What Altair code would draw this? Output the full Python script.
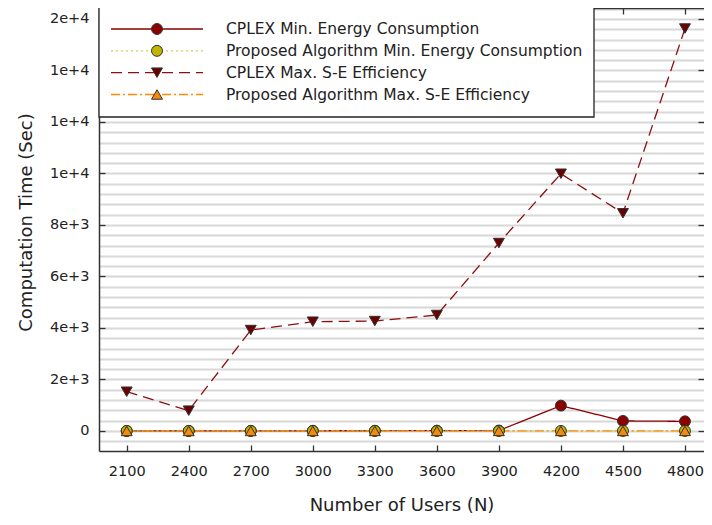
import altair as alt
import pandas as pd

# ---------------- data ----------------
users = [2100, 2400, 2700, 3000, 3300, 3600, 3900, 4200, 4500, 4800]
cplex_min_energy = [3, 4, 6, 8, 10, 14, 18, 985, 390, 375]
proposed_min_energy = [1, 1, 1, 2, 2, 2, 2, 3, 3, 3]
cplex_max_se = [1525, 790, 3920, 4245, 4270, 4505, 7300, 9990, 8455, 15630]
proposed_max_se = [1, 1, 1, 1, 2, 2, 2, 2, 3, 3]

series_names = [
    "CPLEX Min. Energy Consumption",
    "Proposed Algorithm Min. Energy Consumption",
    "CPLEX Max. S-E Efficiency",
    "Proposed Algorithm Max. S-E Efficiency",
]
y_grid_values = list(range(-400, 16401, 400))
y_major_values = list(range(0, 16001, 2000))

# ---------------- styles ----------------
line_colors = ["#8b0000", "#cfcf5a", "#8b1010", "#ff8c00"]
marker_fills = ["#8b0000", "#c2b400", "#6a0000", "#f58a0a"]
marker_shapes = ["circle", "circle", "triangle-down", "triangle-up"]
marker_sizes = [120, 120, 150, 95]
dashes = [[1, 0], [2, 3], [11, 6], [9, 3, 2, 3]]

X_DOMAIN = [1966, 4892]
Y_DOMAIN = [-777, 16427]
FRAME = "#333333"
TEXT = "#222222"

rows = []
for name, vals in zip(series_names, [cplex_min_energy, proposed_min_energy, cplex_max_se, proposed_max_se]):
    for u, v in zip(users, vals):
        rows.append({"users": u, "value": v, "series": name})
df = pd.DataFrame(rows)
legend_df = pd.DataFrame({"series": series_names})
box_df = pd.DataFrame({"series": series_names[:1]})


def xs():
    return alt.Scale(domain=X_DOMAIN, nice=False, zero=False)


def ys():
    return alt.Scale(domain=Y_DOMAIN, nice=False, zero=False)


stroke_enc = alt.Stroke("series:N", scale=alt.Scale(domain=series_names, range=line_colors), legend=None)
dash_enc = alt.StrokeDash("series:N", scale=alt.Scale(domain=series_names, range=dashes), legend=None)
fill_enc = alt.Fill("series:N", scale=alt.Scale(domain=series_names, range=marker_fills), legend=None)
shape_enc = alt.Shape("series:N", scale=alt.Scale(domain=series_names, range=marker_shapes), legend=None)
size_enc = alt.Size("series:N", scale=alt.Scale(domain=series_names, range=marker_sizes), legend=None)

label_expr = "datum.value % 2000 == 0 ? (datum.value == 0 ? '0' : format(datum.value, '.0e')) : ''"

# L1: lines, bottom labels/domain, left labels/grid/domain/title
lines = alt.Chart(df).mark_line(strokeWidth=1.3).encode(
    x=alt.X("users:Q", scale=xs(), axis=alt.Axis(
        orient="bottom", values=users, format="d", ticks=False, tickSize=0,
        labelPadding=13, labelFontSize=14.5, labelColor=TEXT, labelOverlap=False,
        domain=True, domainColor=FRAME, domainWidth=1.5, grid=False,
        title="Number of Users (N)", titleFontSize=18, titleFontWeight="normal",
        titleColor=TEXT, titleY=54, titleBaseline="middle")),
    y=alt.Y("value:Q", scale=ys(), axis=alt.Axis(
        orient="left", values=y_grid_values, labelExpr=label_expr, ticks=False, tickSize=0,
        labelPadding=10, labelFontSize=14.5, labelColor=TEXT, labelOverlap=False,
        domain=True, domainColor=FRAME, domainWidth=1.5,
        grid=True, gridColor="#d8d8d8", gridWidth=2,
        title="Computation Time (Sec)", titleFontSize=18, titleFontWeight="normal",
        titleColor=TEXT, titleX=-68, titleY=214, titleAngle=270,
        titleBaseline="alphabetic", titleAlign="center")),
    stroke=stroke_enc,
    strokeDash=dash_enc,
)

# L2: markers, top ticks + right ticks (inward)
points = alt.Chart(df).mark_point(filled=True, opacity=1, strokeWidth=1).encode(
    x=alt.X("users:Q", scale=xs(), axis=alt.Axis(
        orient="top", values=users, offset=-6, tickSize=6, ticks=True, tickColor=FRAME,
        tickWidth=1.3, labels=False, domain=False, grid=False, title="")),
    y=alt.Y("value:Q", scale=ys(), axis=alt.Axis(
        orient="right", values=y_major_values, offset=-6, tickSize=6, ticks=True,
        tickColor=FRAME, tickWidth=1.3, labels=False, domain=False, grid=False, title="")),
    fill=fill_enc,
    shape=shape_enc,
    size=size_enc,
    stroke=alt.value("#333333"),
)

# L3: invisible, bottom + left inward ticks
ticks_bl = alt.Chart(df).mark_point(opacity=0).encode(
    x=alt.X("users:Q", scale=xs(), axis=alt.Axis(
        orient="bottom", values=users, offset=-6, tickSize=6, ticks=True, tickColor=FRAME,
        tickWidth=1.3, labels=False, domain=False, grid=False, title="")),
    y=alt.Y("value:Q", scale=ys(), axis=alt.Axis(
        orient="left", values=y_major_values, offset=-6, tickSize=6, ticks=True,
        tickColor=FRAME, tickWidth=1.3, labels=False, domain=False, grid=False, title="")),
)

# L4: invisible, top frame line
top_frame = alt.Chart(df).mark_point(opacity=0).encode(
    x=alt.X("users:Q", scale=xs(), axis=alt.Axis(
        orient="top", ticks=False, labels=False, domain=True, domainColor=FRAME,
        domainWidth=1.5, grid=False, title="")),
    y=alt.Y("value:Q", scale=ys(), axis=None),
)

# Legend (drawn inside the plot)
ly = alt.Y("series:N", sort=series_names,
           scale=alt.Scale(type="point", domain=series_names, range=[21, 86.5], padding=0),
           axis=None)

legend_box = alt.Chart(box_df).mark_rect(fill="white", stroke="#222222", strokeWidth=1.3).encode(
    x=alt.value(0), x2=alt.value(495), y=alt.value(-1), y2=alt.value(109)
)
legend_lines = alt.Chart(legend_df).mark_rule(strokeWidth=1.3).encode(
    x=alt.value(12), x2=alt.value(104), y=ly, stroke=stroke_enc, strokeDash=dash_enc
)
legend_points = alt.Chart(legend_df).mark_point(filled=True, opacity=1, strokeWidth=1).encode(
    x=alt.value(58), y=ly, fill=fill_enc, shape=shape_enc, size=size_enc,
    stroke=alt.value("#333333")
)
legend_text = alt.Chart(legend_df).mark_text(
    align="left", baseline="middle", fontSize=15.5, color=TEXT
).encode(x=alt.value(127), y=ly, text="series:N")

chart = (
    alt.layer(lines, points, ticks_bl, top_frame, legend_box, legend_lines, legend_points, legend_text)
    .resolve_scale(y="independent")
    .resolve_axis(x="independent", y="independent")
    .properties(
        width=605,
        height=443,
        padding={"left": 91, "top": 0, "right": 0, "bottom": 66},
        autosize=alt.AutoSizeParams(type="none"),
    )
    .configure(font="DejaVu Sans")
    .configure_view(stroke="transparent")
)

chart.save("out.html", embed_options={"renderer": "svg", "actions": False})
